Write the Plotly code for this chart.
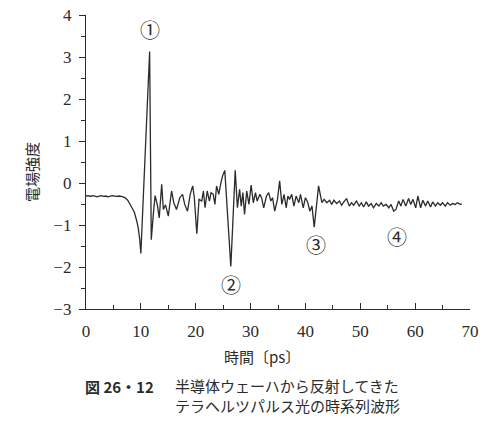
import plotly.graph_objects as go

# time [ps] and field strength
time_ps = [
    0.0, 0.4, 0.8, 1.2, 1.6, 2.0, 2.4, 2.8, 3.2, 3.6, 4.0, 4.4, 4.8, 5.2, 5.6, 6.0, 6.4, 6.8,
    7.2, 7.6, 8.0, 8.4, 8.8, 9.2, 9.5, 9.8, 10.0, 11.6, 11.9,
    12.3, 12.6, 13.0, 13.35, 13.8, 14.1, 14.5, 15.0, 15.6, 16.0, 16.5, 17.1, 17.6, 18.0, 18.5,
    19.0, 19.45, 19.75, 20.2, 20.6, 21.1, 21.4, 21.7, 22.1, 22.5, 22.8, 23.2, 23.5, 23.8, 24.2,
    24.6, 24.9, 25.3, 26.4, 27.2,
    27.6, 28.0, 28.3, 28.6, 28.9, 29.3, 29.7, 30.1, 30.5, 30.9, 31.2, 31.7, 32.0, 32.4, 32.9,
    33.3, 33.7, 34.0, 34.4, 34.9, 35.3, 35.7, 36.1, 36.5, 36.8, 37.1, 37.5, 37.9, 38.3, 38.8,
    39.1, 39.6, 40.0, 40.4, 40.8, 41.2, 41.6, 42.4,
    43.0, 43.4, 43.9, 44.4, 44.8, 45.2, 45.7, 46.2, 46.6, 47.0, 47.5, 48.0, 48.4, 48.8, 49.3,
    49.8, 50.2, 50.6, 51.1, 51.5, 52.0, 52.4, 52.9, 53.4, 53.8, 54.2, 54.7, 55.2, 55.6, 56.1,
    56.5, 57.0, 57.4, 57.8, 58.3, 58.8, 59.2, 59.6, 60.1, 60.5, 61.0, 61.4, 61.9, 62.3, 62.8,
    63.2, 63.7, 64.1, 64.6, 65.0, 65.5, 65.9, 66.4, 66.8, 67.3, 67.7, 68.2, 68.5,
]
field = [
    -0.31, -0.30, -0.32, -0.30, -0.31, -0.33, -0.31, -0.30, -0.32, -0.31, -0.33, -0.31, -0.30, -0.31, -0.32, -0.31, -0.32, -0.33,
    -0.36, -0.41, -0.50, -0.59, -0.69, -0.88, -1.05, -1.35, -1.68, 3.13, -1.35,
    -0.70, -0.30, -0.52, -0.83, -0.03, -0.63, -0.52, -0.79, -0.19, -0.47, -0.63, -0.35, -0.27, -0.51, -0.67,
    -0.27, -0.07, -0.35, -1.21, -0.39, -0.43, -0.19, -0.59, -0.19, -0.43, -0.23, -0.27, -0.51, -0.07, -0.27,
    0.01, 0.17, 0.30, -1.99, 0.30,
    -0.59, -0.15, -0.55, -0.23, -0.75, -0.19, -0.51, -0.05, -0.47, -0.23, -0.43, -0.27, -0.35, -0.59, -0.31,
    -0.23, -0.43, -0.35, -0.67, -0.39, 0.05, -0.51, -0.27, -0.59, -0.31, -0.39, -0.27, -0.55, -0.31, -0.47,
    -0.27, -0.59, -0.35, -0.45, -0.67, -0.55, -1.05, -0.07,
    -0.47, -0.39, -0.47, -0.41, -0.51, -0.41, -0.49, -0.43, -0.53, -0.45, -0.37, -0.55, -0.47, -0.53, -0.43,
    -0.55, -0.47, -0.57, -0.45, -0.55, -0.49, -0.59, -0.49, -0.55, -0.47, -0.55, -0.51, -0.59, -0.51, -0.67,
    -0.63, -0.43, -0.55, -0.39, -0.55, -0.37, -0.51, -0.39, -0.59, -0.31, -0.59, -0.41, -0.55, -0.43, -0.57,
    -0.45, -0.55, -0.47, -0.53, -0.47, -0.55, -0.47, -0.53, -0.49, -0.51, -0.47, -0.51, -0.50,
]

# circled markers ①-④ : label, x, y
marker_labels = ["①", "②", "③", "④"]
marker_x = [11.7, 26.4, 41.9, 56.7]
marker_y = [3.66, -2.42, -1.46, -1.27]

jp = "Noto Sans CJK JP"
serif = "Liberation Serif"
ink = "#2b2b2b"

fig = go.Figure()
fig.add_trace(go.Scatter(
    x=time_ps, y=field, mode="lines",
    line=dict(color=ink, width=1.3),
    showlegend=False, hoverinfo="skip",
))

for lab, mx, my in zip(marker_labels, marker_x, marker_y):
    fig.add_annotation(x=mx, y=my, text=lab, showarrow=False,
                       xanchor="center", yanchor="middle",
                       font=dict(family=jp, size=20, color=ink))

# axis titles and caption (paper coords relative to the plot area)
fig.add_annotation(xref="paper", yref="paper", x=-0.1406, y=0.466, text="電場強度",
                   textangle=-90, xanchor="center", yanchor="middle", showarrow=False,
                   font=dict(family=jp, size=15, color=ink))
fig.add_annotation(xref="paper", yref="paper", x=0.458, y=-0.163, text="時間〔ps〕",
                   xanchor="center", yanchor="middle", showarrow=False,
                   font=dict(family=jp, size=15, color=ink))
fig.add_annotation(xref="paper", yref="paper", x=-0.008, y=-0.262,
                   xanchor="left", yanchor="middle",
                   text="<b>図 26・12</b>", showarrow=False,
                   font=dict(family=jp, size=15, color=ink))
fig.add_annotation(xref="paper", yref="paper", x=0.2266, y=-0.294,
                   xanchor="left", yanchor="middle", align="left",
                   text="半導体ウェーハから反射してきた<br>テラヘルツパルス光の時系列波形",
                   showarrow=False, font=dict(family=jp, size=15, color=ink))

fig.update_xaxes(
    range=[0, 70], dtick=10, tick0=0, automargin=False,
    ticks="inside", ticklen=6, tickwidth=1.2, tickcolor=ink,
    minor=dict(dtick=5, ticks="inside", ticklen=4, tickcolor=ink),
    showline=True, linecolor=ink, linewidth=1.3,
    showgrid=False, zeroline=False, ticklabeloverflow="allow",
    tickfont=dict(family=serif, size=17, color=ink), ticklabelstandoff=6,
)
fig.update_yaxes(
    range=[-3, 4], dtick=1, tick0=0, automargin=False,
    ticks="outside", ticklen=6, tickwidth=1.2, tickcolor=ink,
    minor=dict(dtick=0.5, ticks="outside", ticklen=4, tickcolor=ink),
    showline=True, linecolor=ink, linewidth=1.3,
    showgrid=False, zeroline=False, ticklabeloverflow="allow",
    tickfont=dict(family=serif, size=17, color=ink), ticklabelstandoff=4,
)
fig.update_layout(
    width=489, height=422,
    margin=dict(l=86, r=19, t=15, b=113),
    plot_bgcolor="white", paper_bgcolor="white",
)

# drop the default 8px page margin so the figure fills the window exactly
fig.write_html("out.html", config={"displayModeBar": False},
               post_script="document.body.style.margin='0';")
